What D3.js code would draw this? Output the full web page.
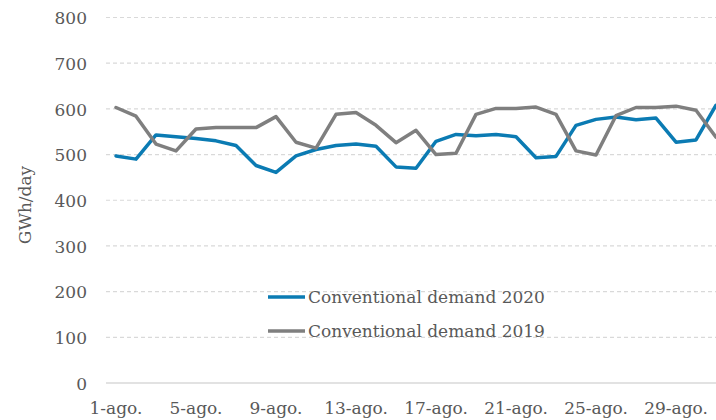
<!DOCTYPE html>
<html>
<head>
<meta charset="utf-8">
<script src="https://cdn.jsdelivr.net/npm/d3@7"></script>
<style>
  html, body { margin: 0; padding: 0; background: #fff; overflow: hidden; }
  text { font-family: "DejaVu Serif", serif; fill: #595959; }
</style>
</head>
<body>
<svg id="chart" width="716" height="420"></svg>
<script>
const days = d3.range(1, 32).map(d => d + "-ago.");
const tickLabels = ["1-ago.", "5-ago.", "9-ago.", "13-ago.", "17-ago.", "21-ago.", "25-ago.", "29-ago."];
const yTicks = [0, 100, 200, 300, 400, 500, 600, 700, 800];
const demand2020 = [497, 490, 543, 539, 535, 530, 520, 476, 461, 497, 511, 520, 523, 518, 473,
                    470, 529, 544, 541, 544, 539, 493, 496, 564, 577, 582, 576, 580, 527, 532, 608];
const demand2019 = [603, 584, 523, 508, 556, 559, 559, 559, 583, 527, 514, 588, 592, 564, 526,
                    553, 500, 503, 588, 601, 601, 604, 588, 508, 499, 585, 603, 603, 606, 597, 538];
const seriesNames = ["Conventional demand 2020", "Conventional demand 2019"];
const seriesColors = ["#0b7bb3", "#7f7f7f"];
const yTitle = "GWh/day";

const svg = d3.select("#chart");
const pLeft = 106, pRight = 726, pTop = 17.5, pBottom = 383;

const x = d3.scaleBand().domain(days).range([pLeft, pRight]);
const y = d3.scaleLinear().domain([0, 800]).range([pBottom, pTop]);
const xc = d => x(d) + x.bandwidth() / 2;

// gridlines
svg.append("g").selectAll("line").data(yTicks.filter(v => v > 0)).join("line")
  .attr("x1", pLeft).attr("x2", pRight)
  .attr("y1", d => y(d)).attr("y2", d => y(d))
  .attr("stroke", "#d9d9d9").attr("stroke-width", 1.2)
  .attr("stroke-dasharray", "4,3");

// baseline
svg.append("line").attr("x1", pLeft).attr("x2", pRight)
  .attr("y1", y(0)).attr("y2", y(0))
  .attr("stroke", "#d9d9d9").attr("stroke-width", 1.5);

// y axis labels
const yAxis = d3.axisLeft(y).tickValues(yTicks).tickSize(0).tickPadding(0).tickFormat(d3.format("d"));
const gy = svg.append("g").attr("transform", "translate(87,0)").call(yAxis);
gy.select(".domain").remove();
gy.selectAll("text").attr("font-size", 17).attr("font-family", "DejaVu Serif").attr("fill", "#595959")
  .attr("dy", "0.36em");

// x axis labels
const xAxis = d3.axisBottom(x).tickValues(tickLabels).tickSize(0).tickPadding(0);
const gx = svg.append("g").attr("transform", "translate(0,402)").call(xAxis);
gx.select(".domain").remove();
gx.selectAll("text").attr("font-size", 17).attr("font-family", "DejaVu Serif").attr("fill", "#595959")
  .attr("dy", "0.71em");

// y title
svg.append("text").attr("transform", "translate(31,205) rotate(-90)")
  .attr("text-anchor", "middle").attr("font-size", 17).text(yTitle);

// lines
const line = d3.line().x((d, i) => xc(days[i])).y(d => y(d));
[demand2020, demand2019].forEach((s, i) => {
  svg.append("path").datum(s).attr("d", line)
    .attr("fill", "none").attr("stroke", seriesColors[i])
    .attr("stroke-width", 3.5).attr("stroke-linejoin", "round").attr("stroke-linecap", "round");
});

// legend
const legY = [297, 331];
seriesNames.forEach((n, i) => {
  svg.append("line").attr("x1", 268).attr("x2", 305).attr("y1", legY[i]).attr("y2", legY[i])
    .attr("stroke", seriesColors[i]).attr("stroke-width", 3.5);
  svg.append("text").attr("x", 308).attr("y", legY[i]).attr("dy", "0.36em")
    .attr("font-size", 17).text(n);
});
</script>
</body>
</html>
